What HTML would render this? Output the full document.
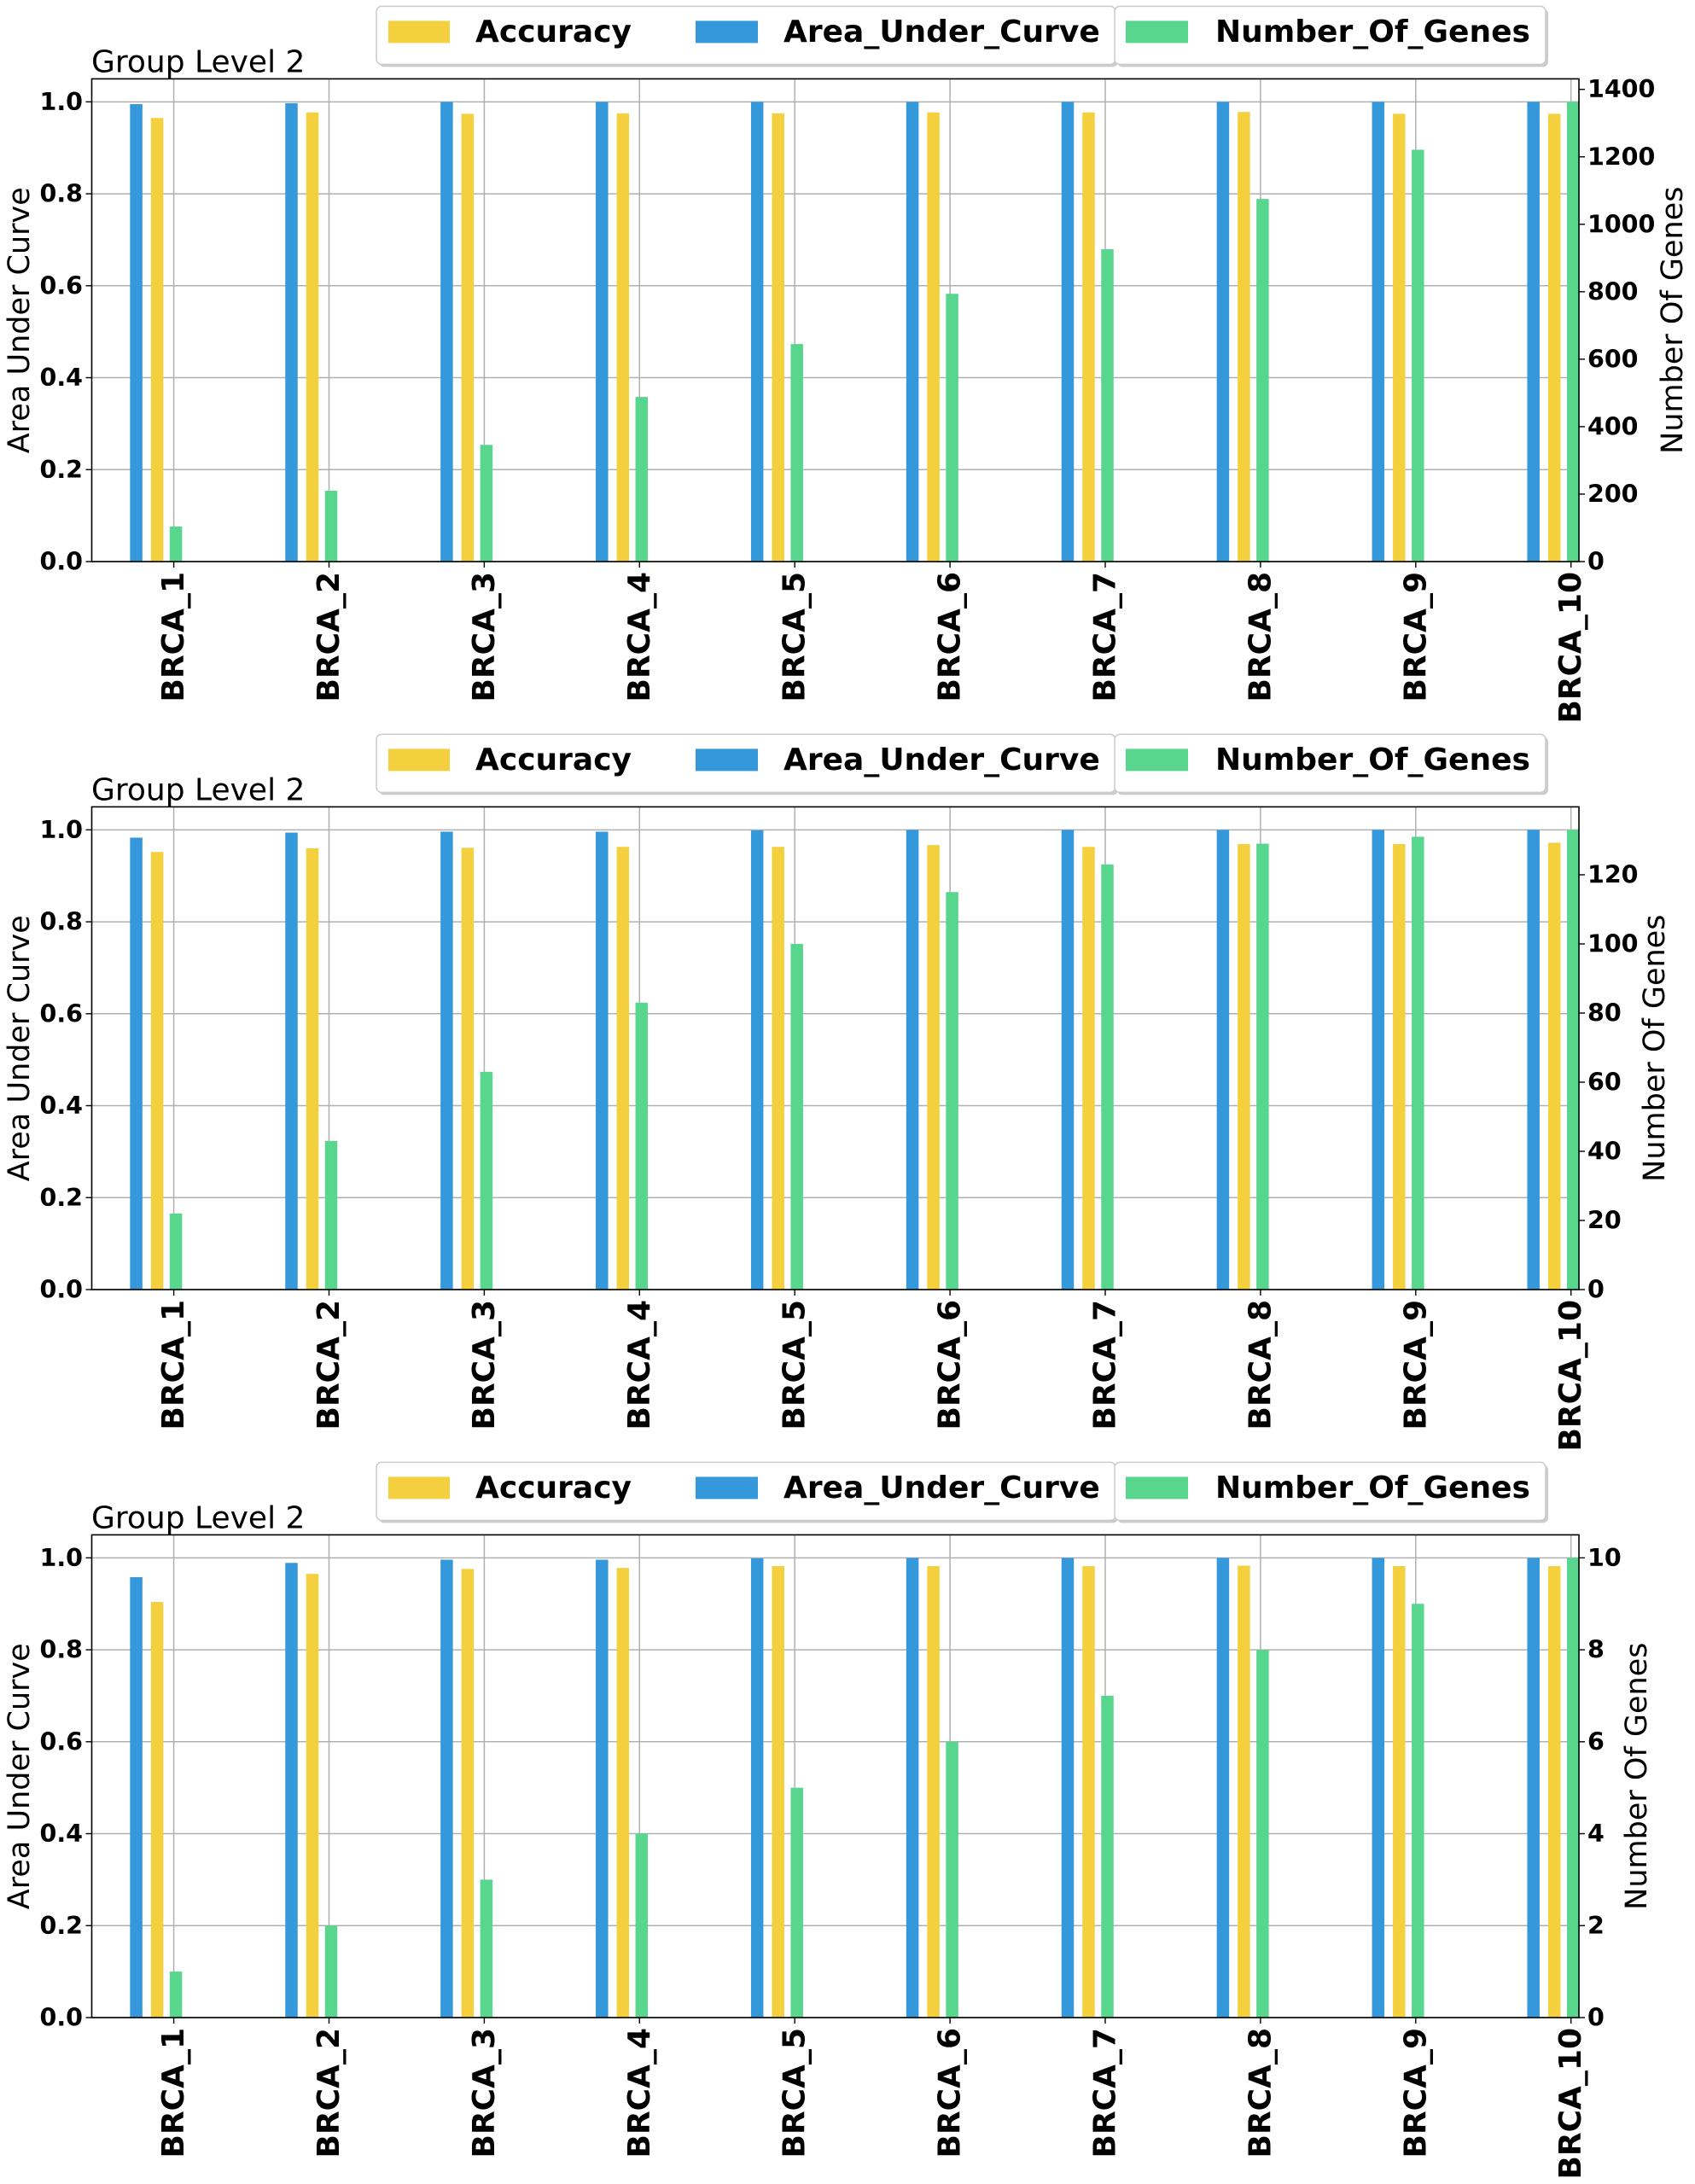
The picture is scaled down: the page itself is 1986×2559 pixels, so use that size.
<!DOCTYPE html>
<html><head><meta charset="utf-8">
<style>
html,body{margin:0;padding:0;background:#fff;}
svg{display:block;font-family:"DejaVu Sans","Liberation Sans",sans-serif;}
</style></head>
<body>
<svg id="chart" width="1986" height="2559" viewBox="0 0 1986 2559" xmlns="http://www.w3.org/2000/svg"></svg>
<script>
const categories = ["BRCA_1","BRCA_2","BRCA_3","BRCA_4","BRCA_5","BRCA_6","BRCA_7","BRCA_8","BRCA_9","BRCA_10"];
const seriesNames = ["Accuracy","Area_Under_Curve","Number_Of_Genes"];
const leftTicks = [0.0,0.2,0.4,0.6,0.8,1.0];
const leftTickLabels = ["0.0","0.2","0.4","0.6","0.8","1.0"];
// panel 1
const acc1 = [0.965,0.977,0.974,0.975,0.975,0.977,0.977,0.978,0.974,0.974];
const auc1 = [0.995,0.997,1.0,1.0,1.0,1.0,1.0,1.0,1.0,1.0];
const genes1 = [104,210,346,488,645,794,926,1075,1221,1363];
const rightTicks1 = [0,200,400,600,800,1000,1200,1400];
// panel 2
const acc2 = [0.952,0.960,0.961,0.963,0.963,0.967,0.963,0.969,0.969,0.972];
const auc2 = [0.983,0.994,0.996,0.996,0.999,1.0,1.0,1.0,1.0,1.0];
const genes2 = [22,43,63,83,100,115,123,129,131,133];
const rightTicks2 = [0,20,40,60,80,100,120];
// panel 3
const acc3 = [0.904,0.965,0.976,0.978,0.982,0.982,0.982,0.983,0.982,0.982];
const auc3 = [0.958,0.989,0.996,0.996,0.999,1.0,1.0,1.0,1.0,1.0];
const genes3 = [1,2,3,4,5,6,7,8,9,10];
const rightTicks3 = [0,2,4,6,8,10];

const NS="http://www.w3.org/2000/svg";
const svg=document.getElementById('chart');
function mk(tag,attrs,parent){const e=document.createElementNS(NS,tag);for(const k in attrs)e.setAttribute(k,attrs[k]);(parent||svg).appendChild(e);return e;}

const panels=[
 {acc:acc1,auc:auc1,genes:genes1,rt:rightTicks1,labelX:1960},
 {acc:acc2,auc:auc2,genes:genes2,rt:rightTicks2,labelX:1939},
 {acc:acc3,auc:auc3,genes:genes3,rt:rightTicks3,labelX:1918}
];
const L=107.5,R=1850,firstTick=203.6,step=181.9,BW=14.5;
const COL={acc:"#f4d03f",auc:"#3498db",gen:"#58d68d"};

panels.forEach((p,pi)=>{
  const top=92.4+pi*853, bottom=658+pi*853;
  const g=mk('g',{});
  
  
  const yL=v=>bottom-(v/1.05)*(bottom-top);
  const gmax=Math.max(...p.genes)*1.05;
  const yR=v=>bottom-(v/gmax)*(bottom-top);
  const xT=i=>firstTick+i*step;
  const clipId='clip'+pi;
  const cp=mk('clipPath',{id:clipId},g);
  mk('rect',{x:L,y:top,width:R-L,height:bottom-top},cp);
  leftTicks.forEach(t=>{
    const ln=mk('line',{x1:L,x2:R,y1:yL(t),y2:yL(t),stroke:"#b0b0b0","stroke-width":1.5},g);
    
    
  });
  categories.forEach((c,i)=>{
    const ln=mk('line',{x1:xT(i),x2:xT(i),y1:top,y2:bottom,stroke:"#b0b0b0","stroke-width":1.5},g);
    
    
  });
  const bars=mk('g',{'clip-path':'url(#'+clipId+')'},g);
  categories.forEach((c,i)=>{
    const b1=mk('rect',{x:xT(i)-44-BW/2,y:yL(p.auc[i]),width:BW,height:bottom-yL(p.auc[i]),fill:COL.auc},bars);
    
    
    const b2=mk('rect',{x:xT(i)-19.5-BW/2,y:yL(p.acc[i]),width:BW,height:bottom-yL(p.acc[i]),fill:COL.acc},bars);
    
    
    const b3=mk('rect',{x:xT(i)+2.5-BW/2,y:yR(p.genes[i]),width:BW,height:bottom-yR(p.genes[i]),fill:COL.gen},bars);
    
    
  });
  const fr=mk('rect',{x:L,y:top,width:R-L,height:bottom-top,fill:"none",stroke:"#000","stroke-width":1.6},g);
  
  
  leftTicks.forEach((t,k)=>{
    mk('line',{x1:L-7,x2:L,y1:yL(t),y2:yL(t),stroke:"#000","stroke-width":1.4},g);
    const tx=mk('text',{x:97,y:yL(t),'text-anchor':'end','dominant-baseline':'central','font-size':28.5,'font-weight':'bold'},g);
    tx.textContent=leftTickLabels[k];
    
    
  });
  p.rt.forEach(t=>{
    mk('line',{x1:R,x2:R+7,y1:yR(t),y2:yR(t),stroke:"#000","stroke-width":1.4},g);
    const tx=mk('text',{x:1860,y:yR(t),'text-anchor':'start','dominant-baseline':'central','font-size':28.5,'font-weight':'bold'},g);
    tx.textContent=String(t);
    
    
  });
  categories.forEach((c,i)=>{
    mk('line',{x1:xT(i),x2:xT(i),y1:bottom,y2:bottom+7,stroke:"#000","stroke-width":1.4},g);
    const tx=mk('text',{x:0,y:0,'text-anchor':'end','dominant-baseline':'central','font-size':36,'font-weight':'bold',transform:'translate('+xT(i)+','+(bottom+12)+') rotate(-90)'},g);
    tx.textContent=c;
    
    
  });
  const yl=mk('text',{x:0,y:0,'text-anchor':'middle','dominant-baseline':'central','font-size':35,transform:'translate(23,'+((top+bottom)/2)+') rotate(-90)'},g);
  yl.textContent="Area Under Curve";
  
  
  const yr=mk('text',{x:0,y:0,'text-anchor':'middle','dominant-baseline':'central','font-size':35,transform:'translate('+p.labelX+','+((top+bottom)/2)+') rotate(-90)'},g);
  yr.textContent="Number Of Genes";
  
  
  const ti=mk('text',{x:107,y:top-8,'font-size':36},g);
  ti.textContent="Group Level 2";
  
  
  const lg1=mk('g',{},g);
  
  
  mk('rect',{x:444,y:top-82,width:866,height:68,rx:6,fill:"#999",opacity:0.5},lg1);
  mk('rect',{x:441,y:top-85,width:866,height:68,rx:6,fill:"#fff",stroke:"#cccccc","stroke-width":1.5},lg1);
  const e1=mk('g',{},lg1);
  
  
  mk('rect',{x:455,y:top-68,width:72,height:26,fill:COL.acc},e1);
  const t1=mk('text',{x:557,y:top-55,'dominant-baseline':'central','font-size':36,'font-weight':'bold'},e1);
  t1.textContent=seriesNames[0];
  const e2=mk('g',{},lg1);
  
  
  mk('rect',{x:815,y:top-68,width:73,height:26,fill:COL.auc},e2);
  const t2=mk('text',{x:918,y:top-55,'dominant-baseline':'central','font-size':36,'font-weight':'bold'},e2);
  t2.textContent=seriesNames[1];
  const lg2=mk('g',{},g);
  
  
  mk('rect',{x:1309,y:top-82,width:505,height:68,rx:6,fill:"#999",opacity:0.5},lg2);
  mk('rect',{x:1306,y:top-85,width:505,height:68,rx:6,fill:"#fff",stroke:"#cccccc","stroke-width":1.5},lg2);
  const e3=mk('g',{},lg2);
  
  
  mk('rect',{x:1319,y:top-68,width:73,height:26,fill:COL.gen},e3);
  const t3=mk('text',{x:1424,y:top-55,'dominant-baseline':'central','font-size':36,'font-weight':'bold'},e3);
  t3.textContent=seriesNames[2];
});
</script>
</body></html>
